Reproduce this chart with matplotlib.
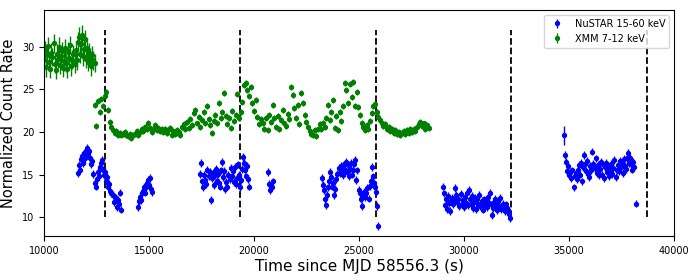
import matplotlib
matplotlib.use("Agg")
import matplotlib.pyplot as plt
import numpy as np

# XMM 7-12 keV light curve (two stretches, binned)
xmm_start = [10000, 12400]
xmm_step = [50, 80]
xmm_err = [1.1, 0.35]
xmm_rate_a = [28.4, 29.6, 27.6, 29.0, 30.1, 28.2, 27.4, 29.3, 28.8, 30.4,
              28.0, 27.3, 29.2, 28.6, 30.0, 27.9, 28.9, 29.5, 27.5, 28.3,
              29.8, 28.1, 27.4, 29.4, 28.7, 30.2, 27.7, 28.5, 29.1, 28.0,
              29.6, 28.4, 30.6, 31.2, 29.2, 30.3, 31.4, 28.9, 29.7, 30.9,
              28.6, 29.9, 28.2, 29.3, 28.8, 27.7, 29.0, 28.4, 28.1]
xmm_rate_b = [23.2, 20.7, 23.6, 22.4, 23.9, 23.0, 24.2, 24.7, 22.6, 21.2,
              20.6, 20.2, 19.9, 20.1, 19.7, 19.9, 19.6, 19.8, 20.0, 19.7,
              19.5, 19.8, 19.3, 19.6, 19.8, 20.1, 19.7, 20.0, 20.3, 20.1,
              20.6, 20.3, 21.1, 20.5, 20.0, 20.4, 20.8, 20.2, 20.5, 20.1,
              20.3, 20.0, 20.4, 19.9, 20.2, 20.5, 19.7, 20.1, 19.8, 20.2,
              20.0, 19.7, 20.6, 20.9, 20.3, 21.2, 20.5, 21.5, 20.8, 22.2,
              22.6, 21.0, 21.8, 20.6, 21.4, 22.3, 21.0, 23.0, 21.5, 20.8,
              19.9, 21.3, 22.0, 21.1, 23.4, 21.6, 22.4, 24.6, 21.9, 20.9,
              21.7, 20.5, 22.5, 21.3, 22.0, 24.5, 21.6, 22.4, 23.5, 25.5,
              25.8, 24.9, 24.2, 25.3, 23.4, 22.5, 23.8, 21.8, 20.9, 21.5,
              21.0, 20.4, 21.7, 20.2, 22.0, 21.2, 23.2, 21.6, 20.6, 21.9,
              20.3, 21.4, 22.6, 21.0, 20.7, 22.1, 21.5, 25.3, 24.3, 22.8,
              21.6, 23.2, 20.9, 24.6, 23.4, 22.0, 21.2, 20.6, 20.1, 19.8,
              19.6, 20.2, 19.5, 20.4, 20.9, 20.3, 21.1, 20.6, 21.6, 23.2,
              21.4, 22.3, 23.7, 20.5, 21.9, 20.2, 22.4, 21.3, 23.0, 25.8,
              24.9, 23.4, 25.6, 24.1, 25.9, 23.1, 24.7, 22.9, 22.0, 21.1,
              20.6, 20.2, 20.8, 20.4, 21.3, 22.2, 23.0, 23.3, 22.4, 21.8,
              21.4, 21.0, 20.7, 20.9, 20.4, 20.6, 20.1, 20.3, 19.9, 20.2,
              19.8, 20.0, 19.6, 19.9, 20.1, 19.8, 20.2, 19.9, 20.3, 20.0,
              20.4, 20.1, 20.6, 20.9, 21.2, 20.7, 21.0, 20.4, 20.8, 20.5]

# NuSTAR 15-60 keV light curve (orbit stretches, 50 s bins)
nu_start = [11600, 13300, 14450, 17430, 20680, 23220, 25000, 28980, 34810]
nu_step = 50
nu_err = 0.45
nu_rate_1 = [15.2, 16.1, 15.6, 16.8, 17.2, 16.4, 17.5, 16.9, 17.7, 18.1,
             17.4, 17.8, 16.9, 16.2, 16.6, 15.1, 14.0, 13.6, 14.5, 15.3,
             14.8, 15.9, 16.4, 16.7, 15.6, 14.9, 15.3, 14.2, 14.7, 13.6,
             13.9, 13.1, 12.8]
nu_rate_2 = [12.6, 11.8, 12.3, 11.2, 12.0, 11.5, 12.9, 10.9]
nu_rate_3 = [11.2, 11.9, 12.4, 12.0, 12.8, 13.1, 13.6, 12.9, 13.5, 14.0,
             14.4, 13.8, 14.6, 13.3, 13.0]
nu_rate_4 = [15.1, 16.4, 14.2, 13.5, 15.0, 14.4, 13.9, 15.6, 14.8, 15.3,
             12.0, 14.6, 15.2, 13.8, 14.9, 15.7, 14.3, 15.1, 14.0, 13.6,
             15.5, 16.5, 14.7, 15.4, 13.3, 14.1, 13.6, 15.0, 14.5, 15.8,
             14.8, 15.4, 14.1, 15.9, 13.9, 14.6, 16.2, 15.0, 13.5, 14.4,
             15.7, 17.1, 16.4, 15.5, 14.8, 16.0, 14.5, 13.6]
nu_rate_5 = [15.3, 13.9, 13.2, 13.6, 14.2]
nu_rate_6 = [14.6, 13.8, 13.2, 12.1, 11.4, 12.6, 13.5, 14.2, 15.3, 14.7,
             13.6, 14.0, 12.6, 13.3, 14.5, 15.1, 15.8, 15.2, 16.0, 15.5,
             14.9, 16.2, 15.6, 16.5, 15.3, 16.1, 14.8, 15.7, 16.4, 15.0,
             15.6, 16.3, 16.7, 14.4, 15.5]
nu_rate_7 = [13.2, 12.8, 12.1, 11.3, 12.6, 13.0, 12.4, 12.9, 13.4, 12.2,
             13.7, 14.3, 15.9, 14.8, 14.0, 13.5, 13.0, 11.3, 9.0]
nu_rate_8 = [13.6, 12.8, 11.4, 12.1, 11.0, 12.5, 11.7, 10.7, 11.9, 12.3,
             11.5, 12.0, 13.4, 12.6, 11.8, 12.2, 11.3, 12.7, 11.6, 12.0,
             11.2, 12.4, 11.7, 12.9, 11.4, 13.2, 12.1, 11.6, 12.5, 11.1,
             11.8, 12.3, 11.0, 12.2, 11.5, 12.6, 11.3, 11.9, 10.9, 12.1,
             11.4, 12.0, 11.2, 12.4, 11.7, 12.9, 11.5, 10.3, 11.1, 11.8,
             12.2, 11.4, 10.8, 11.9, 11.3, 12.3, 11.0, 11.6, 11.2, 10.7,
             11.5, 11.1, 10.9, 10.4, 9.9]
nu_rate_9 = [17.3, 16.5, 15.4, 16.0, 14.9, 15.3, 14.6, 15.5, 13.5, 14.8,
             15.2, 14.5, 15.6, 16.1, 15.0, 16.4, 14.2, 15.9, 17.3, 16.2,
             15.4, 16.6, 15.1, 14.7, 16.0, 15.5, 17.7, 16.3, 15.8, 16.9,
             15.2, 16.1, 14.9, 15.7, 16.5, 15.0, 16.2, 14.6, 15.9, 16.4,
             15.3, 16.0, 14.8, 15.6, 16.3, 15.1, 15.8, 16.7, 14.7, 15.5,
             16.1, 15.4, 16.6, 15.9, 16.3, 15.2, 16.8, 16.0, 15.7, 16.9,
             17.5, 16.4, 17.0, 16.2, 15.6, 16.5, 15.9]
# isolated NuSTAR bins
nu_extra_t = [34760, 38190]
nu_extra_rate = [19.6, 11.6]
nu_extra_err = [1.1, 0.45]

# orbital markers
orbit_t = [12900, 19350, 25800, 32250, 38700]

# build time grids for the binned stretches
xmm_t, xmm_y, xmm_e = [], [], []
for start, step, err, vals in zip(xmm_start, xmm_step, xmm_err, [xmm_rate_a, xmm_rate_b]):
    xmm_t += list(start + step * np.arange(len(vals)))
    xmm_y += vals
    xmm_e += [err] * len(vals)

nu_rates = [nu_rate_1, nu_rate_2, nu_rate_3, nu_rate_4, nu_rate_5,
            nu_rate_6, nu_rate_7, nu_rate_8, nu_rate_9]
nu_t, nu_y, nu_e = [], [], []
for start, vals in zip(nu_start, nu_rates):
    nu_t += list(start + nu_step * np.arange(len(vals)))
    nu_y += vals
    nu_e += [nu_err] * len(vals)
nu_t += nu_extra_t
nu_y += nu_extra_rate
nu_e += nu_extra_err

fig = plt.figure(figsize=(7, 2.8), dpi=100)
ax = fig.add_axes([0.063, 0.157, 0.9, 0.807])

ax.vlines(orbit_t, 10, 32, colors='k', linestyles='--', linewidth=1.3)
ax.errorbar(nu_t, nu_y, yerr=nu_e, fmt='o', color='blue', markersize=2.8,
            elinewidth=1, label='NuSTAR 15-60 keV')
ax.errorbar(xmm_t, xmm_y, yerr=xmm_e, fmt='o', color='green', markersize=2.8,
            elinewidth=1, label='XMM 7-12 keV')

ax.set_xlim(10000, 40000)
ax.set_ylim(7.8, 34.3)
ax.set_xticks([10000, 15000, 20000, 25000, 30000, 35000, 40000])
ax.set_yticks([10, 15, 20, 25, 30])
ax.tick_params(labelsize=7)
ax.set_xlabel('Time since MJD 58556.3 (s)', fontsize=11, labelpad=2)
ax.set_ylabel('Normalized Count Rate', fontsize=10.5)
ax.legend(loc='upper right', fontsize=7)

fig.savefig('out.png', dpi=100)
